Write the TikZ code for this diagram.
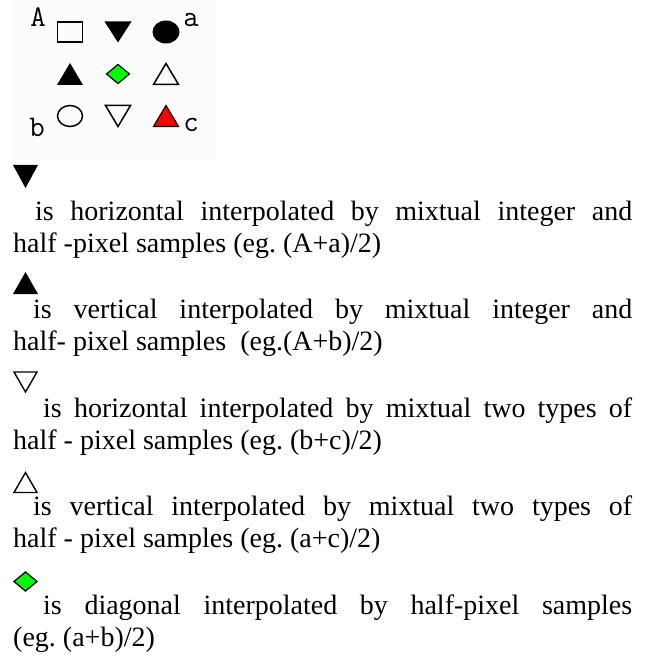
\documentclass[tikz,border=0pt]{standalone}
\usepackage{fontspec}
\setmainfont{Liberation Serif}
\usepackage{tikz}
\usetikzlibrary{calc,positioning}
\definecolor{pelgreen}{RGB}{0,255,0}
\definecolor{pelred}{RGB}{255,0,0}
\definecolor{pelback}{RGB}{252,252,252}
\frenchspacing

\begin{document}
\begin{tikzpicture}[x=1pt,y=-1pt,
    openshape/.style={draw=black, line width=1.5pt, line join=miter},
    fillshape/.style={fill=black},
    gridlbl/.style={font=\ttfamily\fontsize{30}{30}\selectfont, inner sep=0pt},
    desc/.style={font=\fontsize{28}{32}\selectfont, inner sep=0pt, anchor=base west}]
        \useasboundingbox (0,0) rectangle (653,660);
        % Background of the sample grid
        \fill[pelback] (13,0) rectangle (215,160);
        % Define grid positions
        \foreach \c/\x in {1/70,2/118,3/166}
            \foreach \r/\y in {1/32,2/74,3/116}
                \coordinate (g\r\c) at (\x,\y);
        % Integer samples and labels
        \draw[openshape, shift={(g11)}] (-12.5,-10) rectangle (12.5,10);
        \fill[fillshape, shift={(g13)}] (0,0) ellipse (13.5 and 11.5);
        \draw[openshape, shift={(g31)}] (0,0) ellipse (12.5 and 10.5);
        \node[gridlbl] (lA) at (38,17) {A};
        \node[gridlbl] (la) at (191,20) {a};
        \node[gridlbl] (lb) at (37,127) {b};
        \node[gridlbl] (lc) at (191,125) {c};
        % Half-pixel samples
        \fill[fillshape, shift={(g12)}] (-13.5,-10.5) -- (13.5,-10.5) -- (0,10.5) -- cycle;
        \fill[fillshape, shift={(g21)}] (-13,11) -- (13,11) -- (0,-11) -- cycle;
        \draw[openshape, fill=pelgreen, line width=1.2pt, shift={(g22)}] (-11.5,0) -- (0,-9.5) -- (11.5,0) -- (0,9.5) -- cycle;
        \draw[openshape, shift={(g23)}] (-12.5,10.5) -- (12.5,10.5) -- (0,-10.5) -- cycle;
        \draw[openshape, shift={(g32)}] (-12.5,-10.5) -- (12.5,-10.5) -- (0,10.5) -- cycle;
        \draw[openshape, fill=pelred, line width=1.2pt, shift={(g33)}] (-12.5,10.5) -- (12.5,10.5) -- (0,-10.5) -- cycle;
        % Legend markers
        \coordinate (m1) at (25.5,176.5);
        \coordinate (m2) at (25.5,283);
        \coordinate (m3) at (25.5,382);
        \coordinate (m4) at (25.5,482.5);
        \coordinate (m5) at (25.5,581.5);
        \fill[fillshape, shift={(m1)}] (-12.5,-11.5) -- (12.5,-11.5) -- (0,11.5) -- cycle;
        \fill[fillshape, shift={(m2)}] (-12.5,11) -- (12.5,11) -- (0,-11) -- cycle;
        \draw[openshape, line width=1.4pt, shift={(m3)}] (-11.5,-10) -- (11.5,-10) -- (0,10) -- cycle;
        \draw[openshape, line width=1.4pt, shift={(m4)}] (-11.5,10) -- (11.5,10) -- (0,-10) -- cycle;
        \draw[openshape, fill=pelgreen, line width=1.3pt, shift={(m5)}] (-11.5,0) -- (0,-9.5) -- (11.5,0) -- (0,9.5) -- cycle;
        % Legend texts
        \node[desc] (t1a) at (35,220) {\makebox[597pt][s]{is horizontal interpolated by mixtual integer and}};
        \node[desc] (t1b) at (13,252) {half -pixel samples (eg. (A+a)/2)};
        \node[desc] (t2a) at (33,318.5) {\makebox[599pt][s]{is vertical interpolated by mixtual integer and}};
        \node[desc] (t2b) at (13,350.5) {half- pixel samples~ (eg.(A+b)/2)};
        \node[desc] (t3a) at (43,417) {\makebox[589pt][s]{is horizontal interpolated by mixtual two types of}};
        \node[desc] (t3b) at (13,449) {half - pixel samples (eg. (b+c)/2)};
        \node[desc] (t4a) at (33,515.5) {\makebox[599pt][s]{is vertical interpolated by mixtual two types of}};
        \node[desc] (t4b) at (13,547.5) {half - pixel samples (eg. (a+c)/2)};
        \node[desc] (t5a) at (43,614) {\makebox[589pt][s]{is diagonal interpolated by half-pixel samples}};
        \node[desc] (t5b) at (13,646) {(eg. (a+b)/2)};
\end{tikzpicture}
\end{document}
